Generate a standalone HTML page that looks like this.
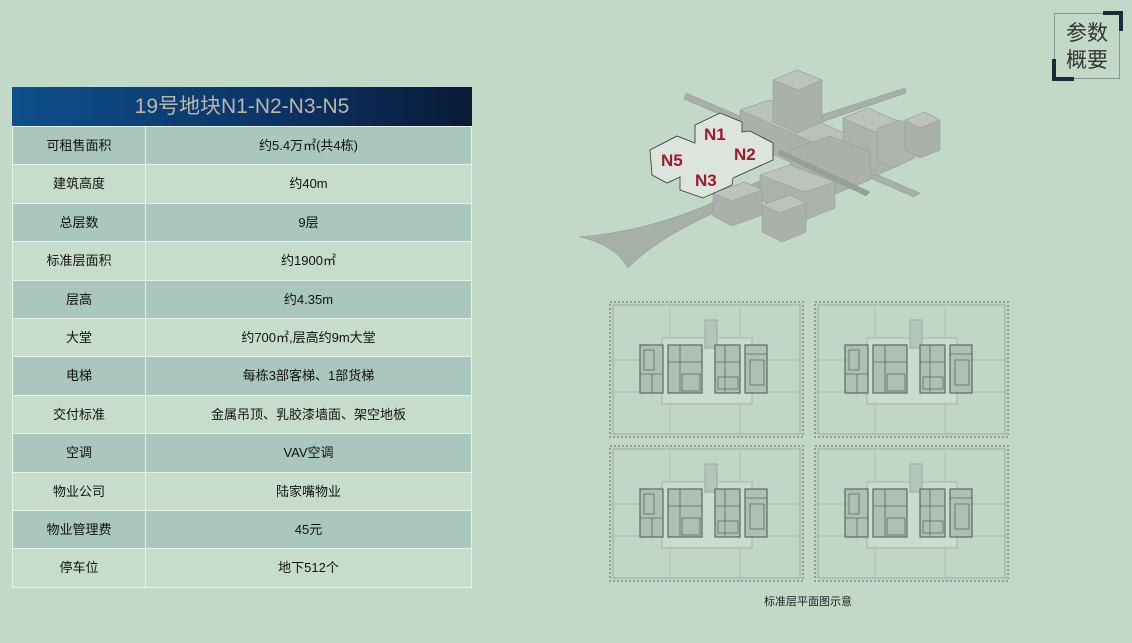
<!DOCTYPE html>
<html><head><meta charset="utf-8"><style>
body{margin:0;width:1132px;height:643px;background:#c2d9c8;position:relative;overflow:hidden;font-family:"Liberation Sans","Noto Sans CJK SC",sans-serif;}
.t{position:absolute;left:12px;top:87px;width:460px;}
.hd{height:39px;background:linear-gradient(90deg,#0e4f8a 0%,#0b3568 55%,#0a1a38 100%);color:#b9b9a6;font-size:21px;text-align:center;line-height:40px;}
.r{display:flex;height:37.4px;border-top:1px solid #e9f1e9;font-size:13px;color:#111;line-height:37px;}
.r div{text-align:center}
.a{width:132px;border-right:1px solid #e9f1e9}
.b{flex:1}
.d{background:#a9c6bf}.l{background:#c6ddcb}
.tbl{border:1px solid #e9f1e9;border-top:none}
</style></head><body>
<div class="t"><div class="hd">19号地块N1-N2-N3-N5</div>
<div class="tbl">
<div class="r d"><div class="a">可租售面积</div><div class="b">约5.4万㎡(共4栋)</div></div>
<div class="r l"><div class="a">建筑高度</div><div class="b">约40m</div></div>
<div class="r d"><div class="a">总层数</div><div class="b">9层</div></div>
<div class="r l"><div class="a">标准层面积</div><div class="b">约1900㎡</div></div>
<div class="r d"><div class="a">层高</div><div class="b">约4.35m</div></div>
<div class="r l"><div class="a">大堂</div><div class="b">约700㎡,层高约9m大堂</div></div>
<div class="r d"><div class="a">电梯</div><div class="b">每栋3部客梯、1部货梯</div></div>
<div class="r l"><div class="a">交付标准</div><div class="b">金属吊顶、乳胶漆墙面、架空地板</div></div>
<div class="r d"><div class="a">空调</div><div class="b">VAV空调</div></div>
<div class="r l"><div class="a">物业公司</div><div class="b">陆家嘴物业</div></div>
<div class="r d"><div class="a">物业管理费</div><div class="b">45元</div></div>
<div class="r l"><div class="a">停车位</div><div class="b">地下512个</div></div>
</div></div>

<div style="position:absolute;left:1054px;top:13px;width:66px;height:66px;border:1px solid #8a9a92;box-sizing:border-box;color:#333;font-size:21px;line-height:27px;text-align:center;padding-top:6px;">参数<br>概要</div>
<div style="position:absolute;left:1103px;top:11px;width:20px;height:20px;border-top:4px solid #1c2a3a;border-right:4px solid #1c2a3a;box-sizing:border-box"></div>
<div style="position:absolute;left:1052px;top:59px;width:22px;height:22px;border-bottom:4px solid #1c2a3a;border-left:4px solid #1c2a3a;box-sizing:border-box"></div>

<svg style="position:absolute;left:0;top:0" width="1132" height="643">
<defs>
<g id="fp">
<rect x="0" y="0" width="193" height="135" fill="#c0d6c6" stroke="#8f9e95" stroke-width="2" stroke-dasharray="2 2"/>
<rect x="3" y="3" width="187" height="129" fill="none" stroke="#9aa99f" stroke-width="1"/>
<line x1="0" y1="58" x2="193" y2="58" stroke="#aabcb0"/><line x1="0" y1="90" x2="193" y2="90" stroke="#aabcb0"/>
<line x1="60" y1="0" x2="60" y2="135" stroke="#b0c2b6"/><line x1="130" y1="0" x2="130" y2="135" stroke="#b0c2b6"/>
<rect x="52" y="36" width="90" height="66" fill="#c9dccf" stroke="#a3b3a8"/>
<rect x="95" y="18" width="12" height="28" fill="#b3c6b9" stroke="#9aa99f"/>
<g fill="#aebfb3" stroke="#5d6a62" stroke-width="1.2">
<rect x="30" y="43" width="23" height="48"/><rect x="58" y="43" width="34" height="48"/>
<rect x="105" y="43" width="25" height="48"/><rect x="135" y="43" width="22" height="48"/></g>
<g stroke="#5d6a62" stroke-width="0.8" fill="none">
<rect x="34" y="48" width="10" height="20"/><line x1="30" y1="72" x2="53" y2="72"/><line x1="42" y1="72" x2="42" y2="91"/>
<line x1="70" y1="43" x2="70" y2="91"/><line x1="58" y1="60" x2="92" y2="60"/><rect x="72" y="72" width="18" height="17"/>
<line x1="105" y1="60" x2="130" y2="60"/><line x1="115" y1="43" x2="115" y2="91"/><rect x="108" y="75" width="20" height="12"/>
<rect x="140" y="58" width="14" height="25"/><line x1="135" y1="52" x2="157" y2="52"/></g>
</g>
</defs>
<use href="#fp" x="610" y="302"/><use href="#fp" x="815" y="302"/>
<use href="#fp" x="610" y="446"/><use href="#fp" x="815" y="446"/>

<!-- aerial -->
<g stroke="#8e9891" stroke-width="0.5">
<path d="M580,237 Q640,232 700,208 L770,176 L780,184 L712,214 Q655,240 628,268 Q615,245 580,237Z" fill="#a6afa8"/>
<path d="M686,93 L920,193 L914,197 L684,99Z" fill="#a6afa8"/>
<path d="M812,118 L905,88 L906,93 L816,124Z" fill="#a6afa8"/>
<!-- long block behind -->
<path d="M740,110 L770,100 L860,140 L860,168 L830,180 L740,140Z" fill="#a9b1aa"/>
<path d="M740,110 L770,100 L860,140 L830,150Z" fill="#bac1bb"/>
<!-- tall -->
<path d="M773,80 L797,70 L822,80 L822,122 L797,133 L773,122Z" fill="#a9b1aa"/>
<path d="M773,80 L797,70 L822,80 L798,90Z" fill="#bcc3bd"/>
<!-- right cluster -->
<path d="M843,118 L868,108 L900,122 L900,165 L875,176 L843,162Z" fill="#aab2ab"/>
<path d="M843,118 L868,108 L900,122 L875,132Z" fill="#bcc3bd"/>
<path d="M878,128 L900,120 L915,127 L915,158 L893,168 L878,160Z" fill="#adb5ae"/>
<path d="M905,120 L925,112 L940,120 L940,150 L920,158 L905,150Z" fill="#a9b1aa"/>
<path d="M905,120 L925,112 L940,120 L920,128Z" fill="#bcc3bd"/>
<!-- lower center blocks -->
<path d="M790,150 L830,136 L870,152 L870,180 L830,196 L790,178Z" fill="#a9b1aa"/>
<path d="M760,175 L790,165 L835,182 L835,208 L805,220 L760,200Z" fill="#aab2ab"/>
<path d="M760,175 L790,165 L835,182 L805,192Z" fill="#bcc3bd"/>
<path d="M762,205 L790,195 L806,203 L806,232 L782,242 L762,232Z" fill="#a9b1aa"/>
<path d="M762,205 L790,195 L806,203 L780,213Z" fill="#bcc3bd"/>
<path d="M713,193 L745,182 L762,190 L762,215 L732,226 L713,216Z" fill="#a9b1aa"/>
<path d="M713,193 L745,182 L762,190 L732,201Z" fill="#bcc3bd"/>
<path d="M780,150 L870,192 L866,196 L778,154Z" fill="#979f99"/>
</g>
<path d="M650,150 L677,136 L695,143 L695,125 L720,113 L742,122 L742,132 L750,131 L773,143 L773,160 L733,178 L732,185 L703,198 L680,190 L680,177 L667,183 L652,175Z" fill="#dde4de" stroke="#333" stroke-width="0.8"/>
<g fill="#9b1b2a" font-weight="bold" font-size="17" font-family="Liberation Sans,sans-serif">
<text x="704" y="140">N1</text><text x="734" y="160">N2</text><text x="695" y="186">N3</text><text x="661" y="166">N5</text></g>
<text x="808" y="605" font-size="11" fill="#222" text-anchor="middle" font-family="Liberation Sans,Noto Sans CJK SC,sans-serif">标准层平面图示意</text>
</svg>
</body></html>
